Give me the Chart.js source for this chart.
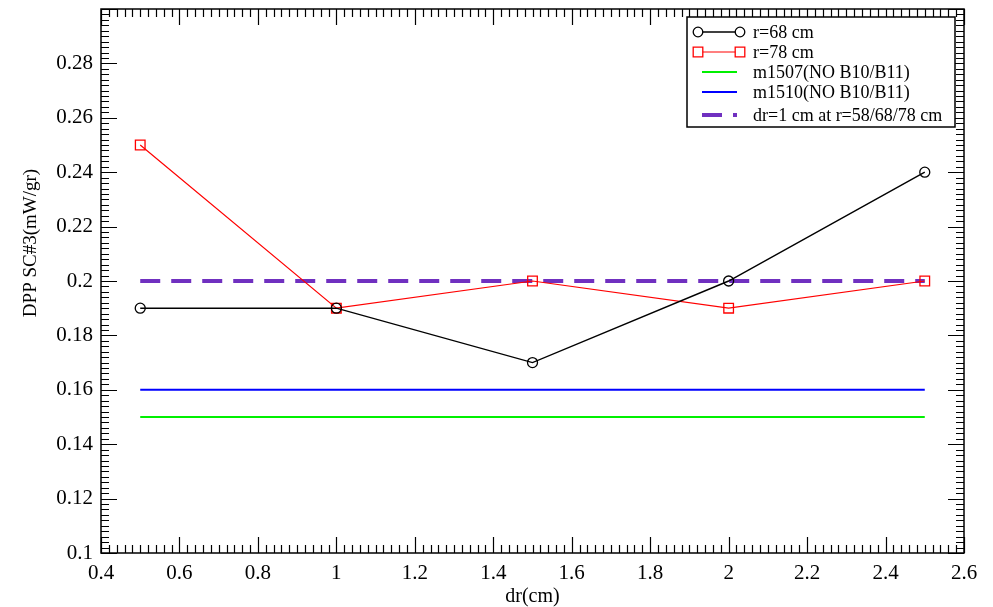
<!DOCTYPE html>
<html lang="en">
<head>
    <meta charset="UTF-8">
    <title>DPP SC#3 vs dr</title>
    <script src="https://cdn.jsdelivr.net/npm/chart.js"></script>
    <style>
        html, body { margin: 0; padding: 0; background: #fff; }
        #wrap { width: 993px; height: 607px; }
    </style>
</head>
<body>
    <div id="wrap"><canvas id="dppChart" width="993" height="607"></canvas></div>

    <script>
        // values
        const drValues = [0.5, 1, 1.5, 2, 2.5];
        const r68 = [0.19, 0.19, 0.17, 0.2, 0.24];
        const r78 = [0.25, 0.19, 0.2, 0.19, 0.2];
        const refRange = [0.5, 2.5];
        const m1507 = [0.15, 0.15];
        const m1510 = [0.16, 0.16];
        const dr1cm = [0.2, 0.2];
        const seriesNames = ['r=68 cm', 'r=78 cm', 'm1507(NO B10/B11)', 'm1510(NO B10/B11)', 'dr=1 cm at r=58/68/78 cm'];

        const xMin = 0.4, xMax = 2.6, xStep = 0.2;
        const yMin = 0.1, yMax = 0.3, yStep = 0.02;

        function pts(xs, ys) {
            return xs.map((x, i) => ({ x: x, y: ys[i] }));
        }
        function fmt(v) {
            return String(parseFloat(v.toFixed(3)));
        }

        // grace style frame with inward ticks on all 4 sides
        const framePlugin = {
            id: 'frame',
            afterDraw(chart) {
                const ctx = chart.ctx;
                const a = chart.chartArea;
                const xs = chart.scales.x, ys = chart.scales.y;
                ctx.save();
                ctx.strokeStyle = '#000';
                ctx.lineWidth = 1.5;
                ctx.strokeRect(a.left, a.top, a.right - a.left, a.bottom - a.top);
                ctx.lineWidth = 1.2;
                ctx.beginPath();
                const nx = Math.round((xMax - xMin) / (xStep / 10));
                for (let i = 0; i <= nx; i++) {
                    const px = Math.round(xs.getPixelForValue(xMin + i * xStep / 10)) + 0.5;
                    const len = (i % 10 === 0) ? 16 : 8;
                    ctx.moveTo(px, a.bottom); ctx.lineTo(px, a.bottom - len);
                    ctx.moveTo(px, a.top); ctx.lineTo(px, a.top + len);
                }
                const ny = Math.round((yMax - yMin) / (yStep / 10));
                for (let i = 0; i <= ny; i++) {
                    const py = Math.round(ys.getPixelForValue(yMin + i * yStep / 10)) + 0.5;
                    const len = (i % 10 === 0) ? 16 : 8;
                    ctx.moveTo(a.left, py); ctx.lineTo(a.left + len, py);
                    ctx.moveTo(a.right, py); ctx.lineTo(a.right - len, py);
                }
                ctx.stroke();
                ctx.restore();
            }
        };

        // legend box in the top right corner
        const legendBox = {
            id: 'legendBox',
            afterDraw(chart) {
                const ctx = chart.ctx;
                const left = 687, top = 17, w = 268, h = 110;
                ctx.save();
                ctx.fillStyle = '#fff';
                ctx.fillRect(left, top, w, h);
                ctx.strokeStyle = '#000';
                ctx.lineWidth = 1.5;
                ctx.strokeRect(left, top, w, h);
                ctx.font = '18px "Liberation Serif"';
                ctx.textBaseline = 'middle';
                chart.data.datasets.forEach((ds, i) => {
                    const y = top + 15 + i * 20 + (i === 4 ? 3 : 0);
                    const x0 = ds.pointRadius ? 698 : 702;
                    const x1 = ds.pointRadius ? 740 : 737;
                    ctx.strokeStyle = ds.borderColor;
                    ctx.lineWidth = ds.borderWidth;
                    ctx.setLineDash(ds.borderDash || []);
                    ctx.beginPath();
                    ctx.moveTo(x0, y); ctx.lineTo(x1, y);
                    ctx.stroke();
                    ctx.setLineDash([]);
                    if (ds.pointRadius) {
                        ctx.lineWidth = 1.3;
                        ctx.strokeStyle = ds.pointBorderColor;
                        [x0, x1].forEach(px => {
                            ctx.beginPath();
                            if (ds.pointStyle === 'rect') {
                                ctx.rect(px - 4.8, y - 4.8, 9.6, 9.6);
                            } else {
                                ctx.arc(px, y, 4.8, 0, Math.PI * 2);
                            }
                            ctx.fillStyle = '#fff';
                            ctx.fill();
                            ctx.stroke();
                        });
                    }
                    ctx.fillStyle = '#000';
                    ctx.fillText(ds.label, 753, y + 1);
                });
                ctx.restore();
            }
        };

        const ctx = document.getElementById('dppChart').getContext('2d');
        new Chart(ctx, {
            type: 'scatter',
            data: {
                datasets: [{
                    label: seriesNames[0],
                    data: pts(drValues, r68),
                    showLine: true,
                    borderColor: '#000',
                    borderWidth: 1.4,
                    pointStyle: 'circle',
                    pointRadius: 5,
                    pointBorderColor: '#000',
                    pointBackgroundColor: 'rgba(255,255,255,0)',
                    pointBorderWidth: 1.3
                }, {
                    label: seriesNames[1],
                    data: pts(drValues, r78),
                    showLine: true,
                    borderColor: '#ff0000',
                    borderWidth: 1.2,
                    pointStyle: 'rect',
                    pointRadius: 6.8,
                    pointBorderColor: '#ff0000',
                    pointBackgroundColor: 'rgba(255,255,255,0)',
                    pointBorderWidth: 1.3
                }, {
                    label: seriesNames[2],
                    data: pts(refRange, m1507),
                    showLine: true,
                    borderColor: '#00f000',
                    borderWidth: 2,
                    pointRadius: 0
                }, {
                    label: seriesNames[3],
                    data: pts(refRange, m1510),
                    showLine: true,
                    borderColor: '#0000ff',
                    borderWidth: 2,
                    pointRadius: 0
                }, {
                    label: seriesNames[4],
                    data: pts(refRange, dr1cm),
                    showLine: true,
                    borderColor: '#7030c0',
                    borderWidth: 4,
                    borderDash: [20, 11],
                    pointRadius: 0
                }]
            },
            options: {
                responsive: false,
                animation: false,
                layout: { padding: { left: 0, right: 29, top: 9, bottom: 0 } },
                plugins: {
                    legend: { display: false },
                    tooltip: { enabled: false }
                },
                scales: {
                    x: {
                        type: 'linear',
                        min: xMin,
                        max: xMax,
                        afterFit: s => { s.height = 54; s.paddingLeft = 0; s.paddingRight = 0; },
                        grid: { display: false, drawTicks: false },
                        border: { display: false },
                        ticks: {
                            stepSize: xStep,
                            autoSkip: false,
                            maxRotation: 0,
                            padding: 8,
                            color: '#000',
                            font: { family: 'Liberation Serif', size: 21 },
                            callback: v => fmt(v)
                        },
                        title: {
                            display: true,
                            text: 'dr(cm)',
                            color: '#000',
                            padding: 0,
                            font: { family: 'Liberation Serif', size: 20, lineHeight: 1 }
                        }
                    },
                    y: {
                        type: 'linear',
                        min: yMin,
                        max: yMax,
                        afterFit: s => { s.width = 101; s.paddingTop = 0; s.paddingBottom = 0; },
                        grid: { display: false, drawTicks: false },
                        border: { display: false },
                        ticks: {
                            stepSize: yStep,
                            autoSkip: false,
                            padding: 8,
                            color: '#000',
                            font: { family: 'Liberation Serif', size: 21 },
                            callback: v => (Math.abs(v - yMax) < 1e-9 ? '' : fmt(v))
                        },
                        title: {
                            display: true,
                            text: '\u2003\u2003\u2003\u2003' + 'DPP SC#3(mW/gr)',
                            color: '#000',
                            padding: { top: 20, bottom: 0 },
                            font: { family: 'Liberation Serif', size: 19, lineHeight: 1.2 }
                        }
                    }
                }
            },
            plugins: [framePlugin, legendBox]
        });
    </script>
</body>
</html>
